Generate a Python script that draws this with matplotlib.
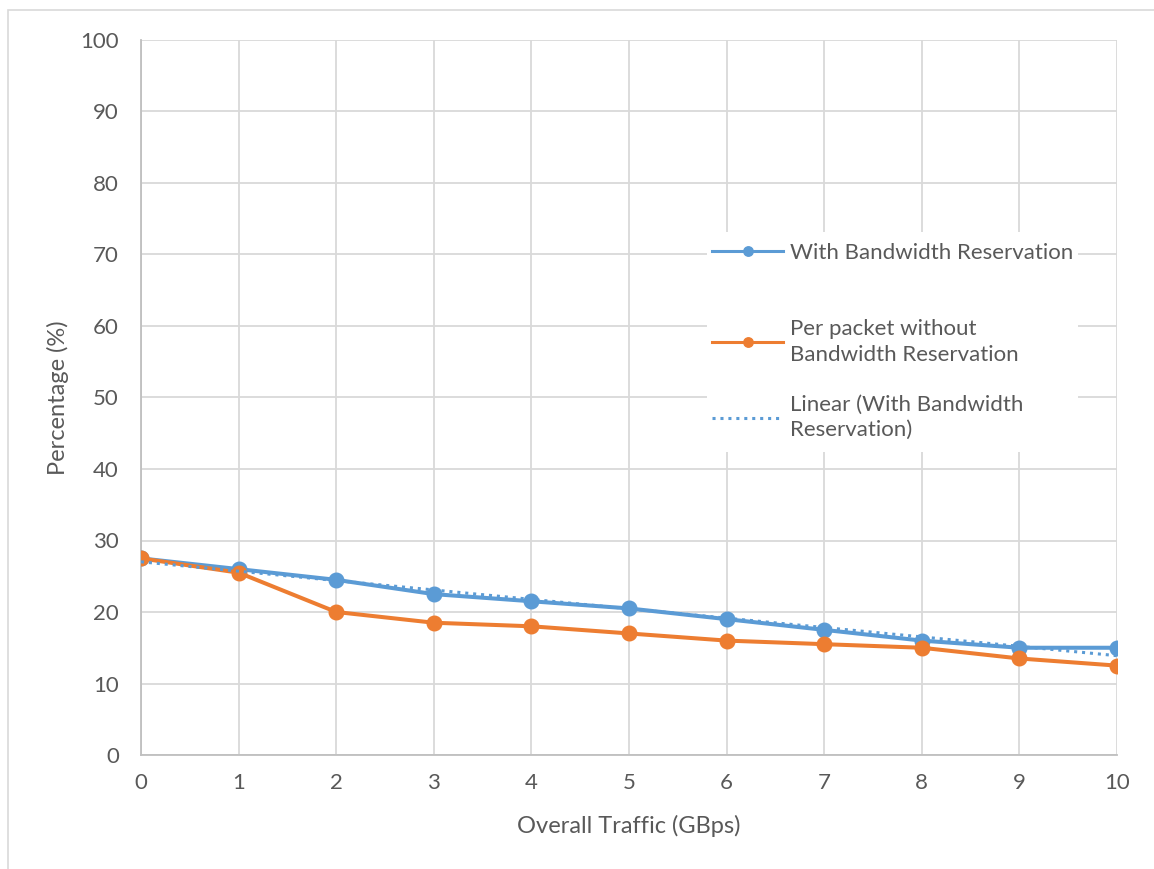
import numpy as np
import matplotlib
matplotlib.use("Agg")
import matplotlib.pyplot as plt
from matplotlib.patches import Rectangle
from matplotlib.legend import Legend

traffic = [0, 1, 2, 3, 4, 5, 6, 7, 8, 9, 10]
with_reservation = [27.5, 26, 24.5, 22.5, 21.5, 20.5, 19, 17.5, 16, 15, 15]
without_reservation = [27.5, 25.5, 20, 18.5, 18, 17, 16, 15.5, 15, 13.5, 12.5]

labels = ["With Bandwidth Reservation",
          "Per packet without\nBandwidth Reservation",
          "Linear (With Bandwidth\nReservation)"]

BLUE = "#5B9BD5"
ORANGE = "#ED7D31"
TEXT = "#595959"
GRID = "#D9D9D9"

plt.rcParams['font.family'] = ['Lato', 'DejaVu Sans']
plt.rcParams['text.color'] = TEXT

fig = plt.figure(figsize=(11.54, 8.69), dpi=100)
ax = fig.add_axes([141 / 1154, 1 - 755 / 869, (1117 - 141) / 1154, (755 - 40) / 869])

# chart outline
fig.patches.append(Rectangle((8 / 1154, -0.1), 1.2, 1 - 10 / 869 + 0.1,
                             transform=fig.transFigure, fill=False,
                             edgecolor="#D9D9D9", linewidth=1.2))

# least-squares trendline for the reservation series
slope, intercept = np.polyfit(traffic, with_reservation, 1)
trend = [slope * x + intercept for x in traffic]

l1, = ax.plot(traffic, with_reservation, color=BLUE, lw=2.9, marker="o",
              markersize=10.5, zorder=3)
l2, = ax.plot(traffic, without_reservation, color=ORANGE, lw=2.9, marker="o",
              markersize=10.5, zorder=4)
l3, = ax.plot(traffic, trend, color=BLUE, lw=2.2, linestyle=(0, (1, 1.6)),
              zorder=5)

ax.set_xlim(0, 10)
ax.set_ylim(0, 100)
ax.set_xticks(range(0, 11))
ax.set_yticks(range(0, 101, 10))
ax.grid(True, color=GRID, lw=1.3)
ax.set_axisbelow(True)
for side in ["top", "right"]:
    ax.spines[side].set_visible(False)
for side in ["left", "bottom"]:
    ax.spines[side].set_color("#BFBFBF")
    ax.spines[side].set_linewidth(1.3)
ax.tick_params(length=0, labelsize=16, colors=TEXT)
ax.tick_params(axis="x", pad=13)
ax.tick_params(axis="y", pad=16)

ax.set_xlabel("Overall Traffic (GBps)", fontsize=17, color=TEXT, labelpad=16)
ax.set_ylabel("Percentage (%)", fontsize=17, color=TEXT, labelpad=8)

# white panel behind the legend entries
ax.add_patch(Rectangle((0.58, 0.424), 0.38, 0.307, transform=ax.transAxes,
                       facecolor="white", edgecolor="none", zorder=1.5))

# one legend per entry so each sits at its own height
entry_y = [0.702, 0.578, 0.472]
for handle, label, y in zip([l1, l2, l3], labels, entry_y):
    leg = Legend(ax, [handle], [label], loc="center left",
                 bbox_to_anchor=(0.585, y), frameon=False, fontsize=16,
                 handlelength=3.2, handletextpad=0.3, borderpad=0,
                 borderaxespad=0)
    h = leg.legend_handles[0]
    h.set_linewidth(2.2)
    if h.get_marker() == "o":
        h.set_markersize(6.8)
    for t in leg.get_texts():
        t.set_color(TEXT)
        t.set_linespacing(1.35)
    leg.set_zorder(6)
    ax.add_artist(leg)

fig.savefig("out.png", dpi=100)
